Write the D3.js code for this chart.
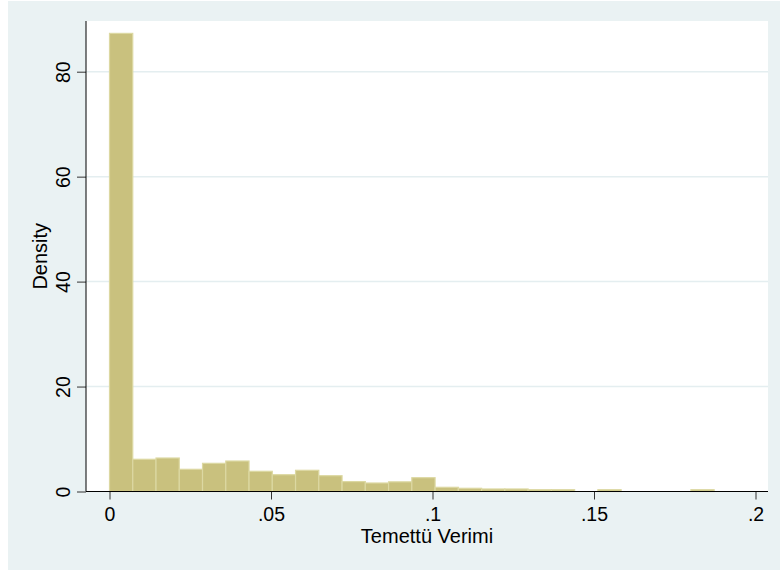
<!DOCTYPE html>
<html>
<head>
<meta charset="utf-8">
<script src="https://cdn.jsdelivr.net/npm/d3@7"></script>
<style>
	body { margin: 0; background: #ffffff; }
	text { font-family: "Liberation Sans", Arial, sans-serif; fill: #000; }
</style>
</head>
<body>
<div id="histogram"></div>
<script>
// histogram of Temettü Verimi, density per bin
var binStart = 0;
var binWidth = 0.0072;
var densities = [87.3, 6.14, 6.38, 4.23, 5.37, 5.81, 3.85, 3.20, 4.04, 3.01,
	1.89, 1.62, 1.84, 2.63, 0.80, 0.61, 0.48, 0.48, 0.34, 0.34,
	0, 0.34, 0, 0, 0, 0.34];

var xTicks = [0, 0.05, 0.1, 0.15, 0.2];
var xTickLabels = ['0', '.05', '.1', '.15', '.2'];
var yTicks = [0, 20, 40, 60, 80];
var xTitle = 'Temettü Verimi';
var yTitle = 'Density';

var params = {
	width: 780,
	height: 572,
	bg: {left: 8, top: 1, right: 780, bottom: 570},
	plot: {left: 86, top: 21, right: 768, bottom: 491.5},
	bgColor: '#eaf2f3',
	fillColor: '#c9c17e',
	strokeColor: '#dcd8a2',
	fontSize: 19.5,
	titleSize: 20
};

function createHistogram(){
	var p = params.plot;

	var svg = d3.select('#histogram')
		.append('svg')
			.attr('width', params.width)
			.attr('height', params.height);

	// outer graph region
	svg.append('rect')
		.attr('x', params.bg.left)
		.attr('y', params.bg.top)
		.attr('width', params.bg.right - params.bg.left)
		.attr('height', params.bg.bottom - params.bg.top)
		.style('fill', params.bgColor);

	// plot region
	svg.append('rect')
		.attr('x', p.left)
		.attr('y', p.top)
		.attr('width', p.right - p.left)
		.attr('height', p.bottom - p.top)
		.style('fill', '#ffffff');

	var xAxis = d3.scaleLinear()
		.domain([0, 0.2])
		.range([109.5, 755.5]);
	var yAxis = d3.scaleLinear()
		.domain([0, 89.66])
		.range([p.bottom, p.top]);

	// grid lines
	svg.selectAll('.grid')
		.data(yTicks.filter(function(d){ return d > 0; }))
		.enter()
		.append('line')
			.attr('class', 'grid')
			.attr('x1', p.left)
			.attr('x2', p.right)
			.attr('y1', function(d){ return yAxis(d); })
			.attr('y2', function(d){ return yAxis(d); })
			.style('stroke', '#e4eef0')
			.style('stroke-width', 1.5);

	// bars
	svg.selectAll('.bar')
		.data(densities)
		.enter()
		.append('rect')
			.attr('class', 'bar')
			.attr('x', function(d, i){ return xAxis(binStart + i * binWidth); })
			.attr('y', function(d){ return yAxis(d); })
			.attr('width', function(d, i){ return xAxis(binStart + (i + 1) * binWidth) - xAxis(binStart + i * binWidth); })
			.attr('height', function(d){ return p.bottom - yAxis(d); })
			.style('fill', params.fillColor)
			.style('stroke', params.strokeColor)
			.style('stroke-width', function(d){ return d > 0 ? 1.2 : 0; });

	// x axis
	var gx = svg.append('g')
		.attr('transform', 'translate(0,' + p.bottom + ')')
		.call(d3.axisBottom(xAxis)
			.tickValues(xTicks)
			.tickFormat(function(d, i){ return xTickLabels[i]; })
			.tickSize(8)
			.tickSizeOuter(0));
	gx.select('.domain').remove();
	gx.selectAll('.tick line').style('stroke', '#333');
	gx.selectAll('.tick text')
		.attr('y', 29.5)
		.attr('dy', 0)
		.style('font-size', params.fontSize + 'px')
		.style('fill', '#000');

	// y axis
	var gy = svg.append('g')
		.attr('transform', 'translate(' + p.left + ',0)')
		.call(d3.axisLeft(yAxis)
			.tickValues(yTicks)
			.tickFormat(d3.format('d'))
			.tickSize(9)
			.tickSizeOuter(0));
	gy.select('.domain').remove();
	gy.selectAll('.tick line').style('stroke', '#333');
	gy.selectAll('.tick text')
		.attr('transform', 'rotate(-90)')
		.attr('x', 0)
		.attr('y', -16)
		.attr('dy', 0)
		.attr('text-anchor', 'middle')
		.style('font-size', params.fontSize + 'px')
		.style('fill', '#000');

	// axis lines
	svg.append('line')
		.attr('x1', p.left).attr('x2', p.left)
		.attr('y1', p.top).attr('y2', p.bottom)
		.style('stroke', '#000').style('stroke-width', 1);
	svg.append('line')
		.attr('x1', p.left).attr('x2', p.right)
		.attr('y1', p.bottom).attr('y2', p.bottom)
		.style('stroke', '#000').style('stroke-width', 1);

	// titles
	svg.append('text')
		.attr('x', (p.left + p.right) / 2)
		.attr('y', 542.5)
		.attr('text-anchor', 'middle')
		.style('font-size', params.titleSize + 'px')
		.text(xTitle);
	svg.append('text')
		.attr('transform', 'translate(47,' + (p.top + p.bottom) / 2 + ') rotate(-90)')
		.attr('text-anchor', 'middle')
		.style('font-size', params.titleSize + 'px')
		.text(yTitle);
}

createHistogram();
</script>
</body>
</html>
